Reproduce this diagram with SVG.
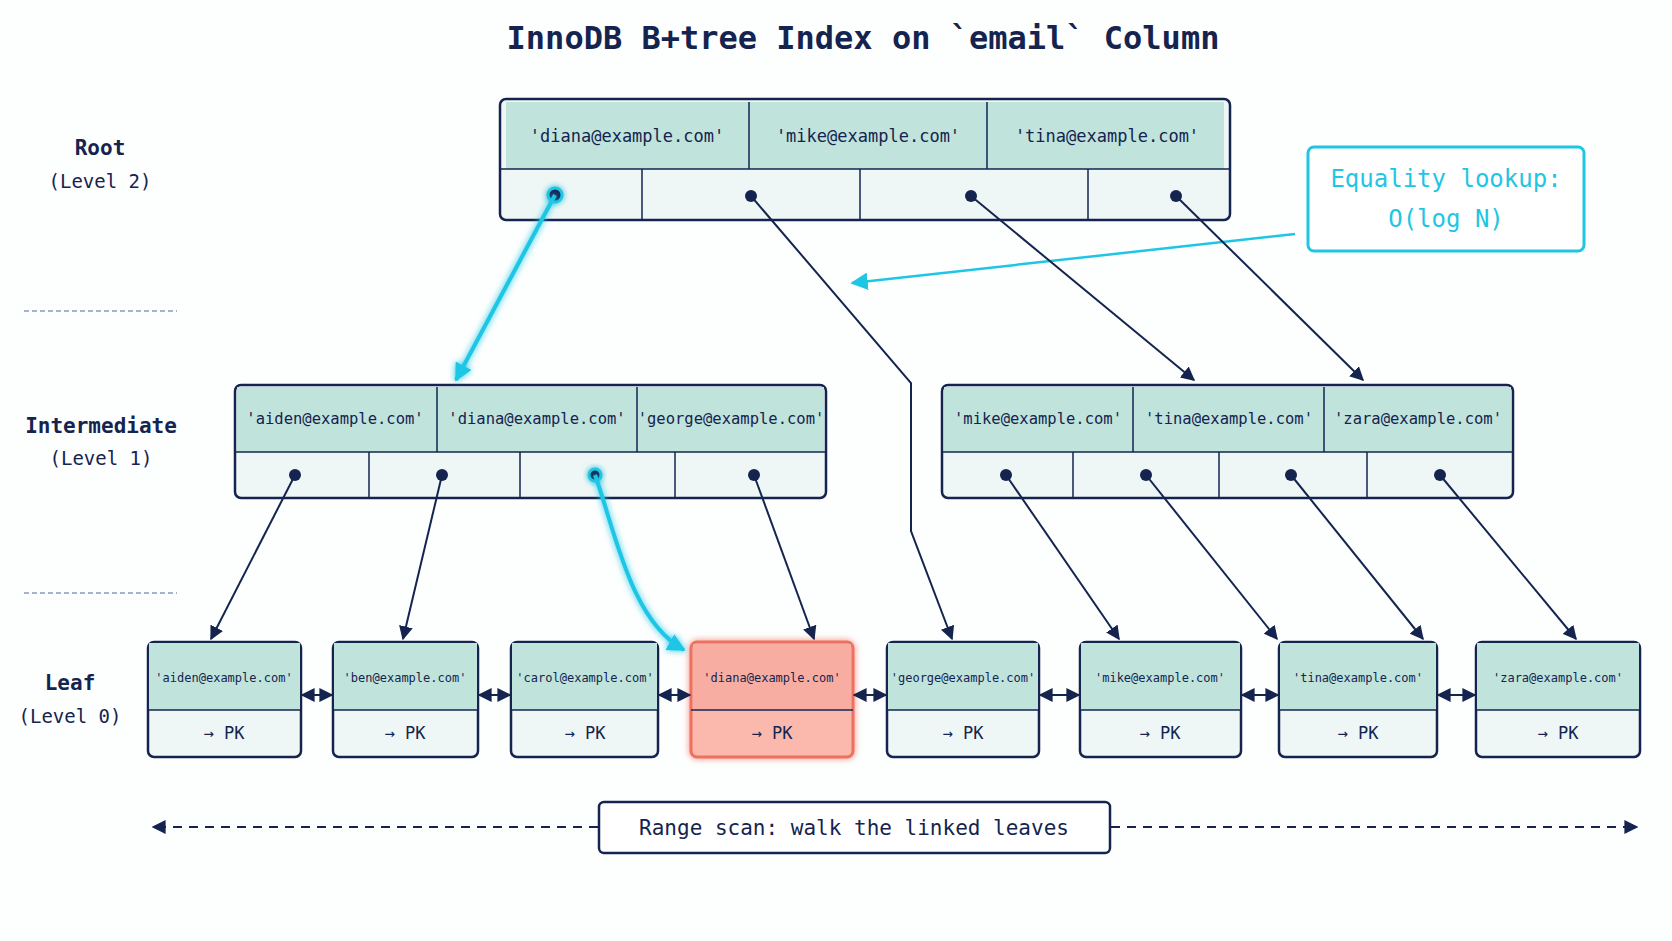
<svg xmlns="http://www.w3.org/2000/svg" width="1672" height="941" viewBox="0 0 1672 941">
<defs>
<style>
text{font-family:"DejaVu Sans Mono","Liberation Mono",monospace;fill:#15244f;text-anchor:middle}
.title{font-size:32px;font-weight:bold}
.lvl{font-size:21px;font-weight:bold}
.lvs{font-size:19px}
.key{font-size:17px}
.ik{font-size:15.5px}
.lk{font-size:12px}
.pk{font-size:17px}
.box{stroke:#15244f;stroke-width:2.5;fill:#eef7f6}
.hdr{fill:#c0e3dc}
.sep{stroke:#15244f;stroke-width:1.5}
.dot{fill:#15244f}
.c{fill:none;stroke:#15244f;stroke-width:2}
.cy{fill:none;stroke:#1ec6e4;stroke-width:4}
.dash{stroke:#4a6a9a;stroke-width:1.2;stroke-dasharray:5 3}
</style>
<marker id="a" viewBox="0 0 10 10" refX="9" refY="5" markerWidth="7" markerHeight="7" orient="auto-start-reverse"><path d="M0,0L10,5L0,10z" fill="#15244f"/></marker>
<marker id="ac" viewBox="0 0 10 10" refX="9" refY="5" markerWidth="4.5" markerHeight="4.5" orient="auto"><path d="M0,0L10,5L0,10z" fill="#1ec6e4"/></marker>
<marker id="ac2" viewBox="0 0 10 10" refX="9" refY="5" markerWidth="7" markerHeight="7" orient="auto"><path d="M0,0L10,5L0,10z" fill="#1ec6e4"/></marker>
<filter id="glow" x="-50%" y="-50%" width="200%" height="200%"><feGaussianBlur stdDeviation="3" result="b"/><feMerge><feMergeNode in="b"/><feMergeNode in="SourceGraphic"/></feMerge></filter>
</defs>
<rect width="1672" height="941" fill="#fdfefe"/>
<text class="title" x="863" y="49">InnoDB B+tree Index on `email` Column</text>

<g id="labels">
<text class="lvl" x="100" y="155">Root</text><text class="lvs" x="100" y="188">(Level 2)</text>
<text class="lvl" x="101" y="433">Intermediate</text><text class="lvs" x="101" y="465">(Level 1)</text>
<text class="lvl" x="70" y="690">Leaf</text><text class="lvs" x="70" y="723">(Level 0)</text>
<line class="dash" x1="24" y1="311" x2="177" y2="311"/>
<line class="dash" x1="24" y1="593" x2="177" y2="593"/>
</g>

<g id="root">
<rect class="box" x="500" y="99" width="730" height="121" rx="6"/>
<path class="hdr" d="M506,102H1224V169H506z"/>
<line class="sep" x1="500" y1="169" x2="1230" y2="169"/>
<line class="sep" x1="749" y1="102" x2="749" y2="169"/><line class="sep" x1="987" y1="102" x2="987" y2="169"/>
<line class="sep" x1="642" y1="169" x2="642" y2="220"/><line class="sep" x1="860" y1="169" x2="860" y2="220"/><line class="sep" x1="1088" y1="169" x2="1088" y2="220"/>
<text class="key" x="627" y="142">'diana@example.com'</text><text class="key" x="868" y="142">'mike@example.com'</text><text class="key" x="1107" y="142">'tina@example.com'</text>
<circle cx="555" cy="195" r="7" fill="#15244f" stroke="#1ec6e4" stroke-width="3" filter="url(#glow)"/>
<circle class="dot" cx="751" cy="196" r="6"/><circle class="dot" cx="971" cy="196" r="6"/><circle class="dot" cx="1176" cy="196" r="6"/>
</g>

<g id="int-left">
<rect class="box" x="235" y="385" width="591" height="113" rx="6"/>
<path class="hdr" d="M237,387H824V452H237z"/>
<line class="sep" x1="235" y1="452" x2="826" y2="452"/>
<line class="sep" x1="437" y1="387" x2="437" y2="452"/><line class="sep" x1="637" y1="387" x2="637" y2="452"/>
<line class="sep" x1="369" y1="452" x2="369" y2="498"/><line class="sep" x1="520" y1="452" x2="520" y2="498"/><line class="sep" x1="675" y1="452" x2="675" y2="498"/>
<text class="ik" x="335" y="424">'aiden@example.com'</text><text class="ik" x="537" y="424">'diana@example.com'</text><text class="ik" x="731" y="424">'george@example.com'</text>
<circle class="dot" cx="295" cy="475" r="6"/><circle class="dot" cx="442" cy="475" r="6"/>
<circle cx="595" cy="475" r="6" fill="#15244f" stroke="#1ec6e4" stroke-width="3" filter="url(#glow)"/>
<circle class="dot" cx="754" cy="475" r="6"/>
</g>

<g id="int-right">
<rect class="box" x="942" y="385" width="571" height="113" rx="6"/>
<path class="hdr" d="M944,387H1511V452H944z"/>
<line class="sep" x1="942" y1="452" x2="1513" y2="452"/>
<line class="sep" x1="1133" y1="387" x2="1133" y2="452"/><line class="sep" x1="1324" y1="387" x2="1324" y2="452"/>
<line class="sep" x1="1073" y1="452" x2="1073" y2="498"/><line class="sep" x1="1219" y1="452" x2="1219" y2="498"/><line class="sep" x1="1367" y1="452" x2="1367" y2="498"/>
<text class="ik" x="1038" y="424">'mike@example.com'</text><text class="ik" x="1229" y="424">'tina@example.com'</text><text class="ik" x="1418" y="424">'zara@example.com'</text>
<circle class="dot" cx="1006" cy="475" r="6"/><circle class="dot" cx="1146" cy="475" r="6"/><circle class="dot" cx="1291" cy="475" r="6"/><circle class="dot" cx="1440" cy="475" r="6"/>
</g>

<g id="leaf1"><rect class="box" x="148" y="642" width="153" height="115" rx="6"/><path class="hdr" d="M149,643H300V710H149z"/><line class="sep" x1="148" y1="710" x2="301" y2="710"/><text class="lk" x="224" y="682">'aiden@example.com'</text><text class="pk" x="224" y="739">→ PK</text></g>
<g id="leaf2"><rect class="box" x="333" y="642" width="145" height="115" rx="6"/><path class="hdr" d="M334,643H477V710H334z"/><line class="sep" x1="333" y1="710" x2="478" y2="710"/><text class="lk" x="405" y="682">'ben@example.com'</text><text class="pk" x="405" y="739">→ PK</text></g>
<g id="leaf3"><rect class="box" x="511" y="642" width="147" height="115" rx="6"/><path class="hdr" d="M512,643H657V710H512z"/><line class="sep" x1="511" y1="710" x2="658" y2="710"/><text class="lk" x="585" y="682">'carol@example.com'</text><text class="pk" x="585" y="739">→ PK</text></g>
<g id="leaf4"><rect x="691" y="642" width="162" height="115" rx="6" fill="#fbb9ae" stroke="#f0705f" stroke-width="3" filter="url(#glow)"/><path d="M693,644H851V710H693z" fill="#f8ada2"/><line x1="691" y1="710" x2="853" y2="710" stroke="#15244f" stroke-width="1.5"/><text class="lk" x="772" y="682">'diana@example.com'</text><text class="pk" x="772" y="739">→ PK</text></g>
<g id="leaf5"><rect class="box" x="887" y="642" width="152" height="115" rx="6"/><path class="hdr" d="M888,643H1038V710H888z"/><line class="sep" x1="887" y1="710" x2="1039" y2="710"/><text class="lk" x="963" y="682">'george@example.com'</text><text class="pk" x="963" y="739">→ PK</text></g>
<g id="leaf6"><rect class="box" x="1080" y="642" width="161" height="115" rx="6"/><path class="hdr" d="M1081,643H1240V710H1081z"/><line class="sep" x1="1080" y1="710" x2="1241" y2="710"/><text class="lk" x="1160" y="682">'mike@example.com'</text><text class="pk" x="1160" y="739">→ PK</text></g>
<g id="leaf7"><rect class="box" x="1279" y="642" width="158" height="115" rx="6"/><path class="hdr" d="M1280,643H1436V710H1280z"/><line class="sep" x1="1279" y1="710" x2="1437" y2="710"/><text class="lk" x="1358" y="682">'tina@example.com'</text><text class="pk" x="1358" y="739">→ PK</text></g>
<g id="leaf8"><rect class="box" x="1476" y="642" width="164" height="115" rx="6"/><path class="hdr" d="M1477,643H1639V710H1477z"/><line class="sep" x1="1476" y1="710" x2="1640" y2="710"/><text class="lk" x="1558" y="682">'zara@example.com'</text><text class="pk" x="1558" y="739">→ PK</text></g>

<g id="eq-box">
<rect x="1308" y="147" width="276" height="104" rx="6" fill="#fff" stroke="#1ec6e4" stroke-width="3"/>
<text x="1446" y="187" style="font-size:24px;fill:#1ec6e4">Equality lookup:</text>
<text x="1446" y="227" style="font-size:24px;fill:#1ec6e4">O(log N)</text>
</g>

<g id="range-box">
<rect x="599" y="802" width="511" height="51" rx="5" fill="#fff" stroke="#15244f" stroke-width="2.5"/>
<text x="854" y="835" style="font-size:21px">Range scan: walk the linked leaves</text>
</g>

<g id="connectors">
<path class="cy" d="M555,195L456,380" marker-end="url(#ac)" filter="url(#glow)"/>
<path class="cy" d="M595,475C615,530 630,620 684,650" marker-end="url(#ac)" filter="url(#glow)"/>
<path d="M1295,234L852,283" fill="none" stroke="#1ec6e4" stroke-width="2.5" marker-end="url(#ac2)"/>
<path class="c" d="M751,196L911,383V531L952,639" marker-end="url(#a)"/>
<path class="c" d="M971,196L1194,380" marker-end="url(#a)"/>
<path class="c" d="M1176,196L1363,380" marker-end="url(#a)"/>
<path class="c" d="M295,475L211,639" marker-end="url(#a)"/>
<path class="c" d="M442,475L403,639" marker-end="url(#a)"/>
<path class="c" d="M754,475L814,639" marker-end="url(#a)"/>
<path class="c" d="M1006,475L1119,639" marker-end="url(#a)"/>
<path class="c" d="M1146,475L1277,639" marker-end="url(#a)"/>
<path class="c" d="M1291,475L1423,639" marker-end="url(#a)"/>
<path class="c" d="M1440,475L1576,639" marker-end="url(#a)"/>
<path class="c" d="M302,695H332" marker-start="url(#a)" marker-end="url(#a)"/>
<path class="c" d="M479,695H510" marker-start="url(#a)" marker-end="url(#a)"/>
<path class="c" d="M659,695H690" marker-start="url(#a)" marker-end="url(#a)"/>
<path class="c" d="M854,695H886" marker-start="url(#a)" marker-end="url(#a)"/>
<path class="c" d="M1040,695H1079" marker-start="url(#a)" marker-end="url(#a)"/>
<path class="c" d="M1242,695H1278" marker-start="url(#a)" marker-end="url(#a)"/>
<path class="c" d="M1438,695H1475" marker-start="url(#a)" marker-end="url(#a)"/>
<path class="c" d="M598,827H153" stroke-dasharray="9 7" marker-end="url(#a)"/>
<path class="c" d="M1111,827H1637" stroke-dasharray="9 7" marker-end="url(#a)"/>
</g>
</svg>
